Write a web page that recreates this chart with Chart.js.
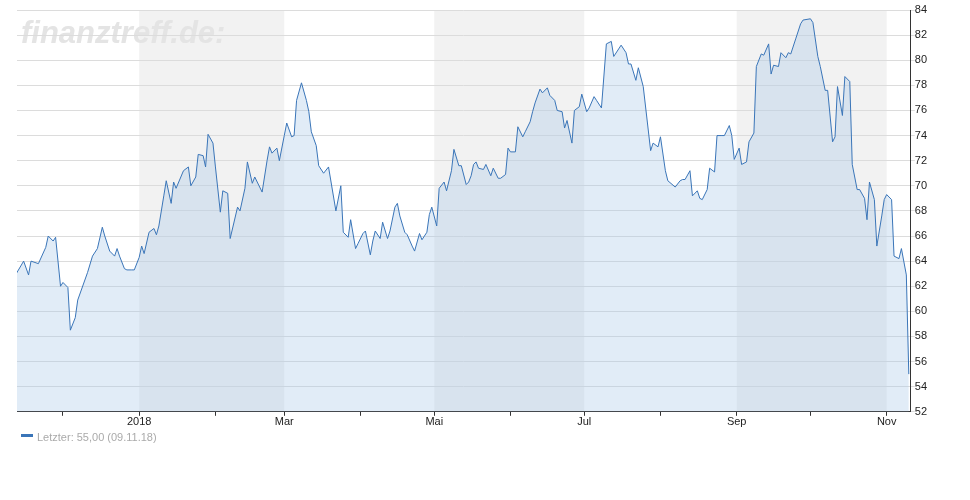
<!DOCTYPE html>
<html>
<head>
<meta charset="utf-8">
<script src="https://cdn.jsdelivr.net/npm/chart.js@4"></script>
<style>
  body { margin: 0; background: #fff; font-family: Arial, "Liberation Sans", sans-serif; }
  #wrap { position: relative; width: 970px; height: 434px; }
  #legend { position: absolute; left: 21px; top: 431px; font-size: 11px; color: #aaa; }
  #legend span { display: inline-block; width: 12px; height: 3px; background: #3a75b8; vertical-align: middle; margin-right: 4px; position: relative; top: -3px; }
</style>
</head>
<body>
<div id="wrap"><canvas id="chart"></canvas></div>
<div id="legend"><span></span>Letzter: 55,00 (09.11.18)</div>
<script>
// days since 01.01.2018
const days = [-50,-47,-45,-44,-41,-38,-37,-35,-34,-32,-31,-29,-28,-26,-25,-21,-19,-17,-15,-14,-12,-10,-9,-8,-6,-5,-3,-2,0,1,2,4,6,7,8,10,11,13,14,15,18,20,21,23,24,26,27,28,30,31,33,34,36,37,40,
  41,43,44,46,47,50,52,53,54,56,57,59,60,62,63,64,66,68,69,70,72,73,75,77,80,82,83,85,86,88,89,91,92,94,95,96,98,99,101,102,104,105,106,108,109,111,112,114,115,117,118,119,121,122,124,125,127,128,130,131,133,134,
  135,136,137,138,140,141,143,144,146,147,149,150,151,153,154,156,157,159,160,161,163,164,166,167,169,170,172,173,174,176,177,179,180,182,183,185,186,188,190,192,193,195,196,198,199,200,202,203,205,208,209,211,212,214,215,218,220,221,222,224,225,227,
  228,229,231,232,234,235,237,238,240,241,242,244,245,247,248,250,251,253,254,256,257,258,260,261,263,264,265,267,269,270,273,274,276,277,279,280,282,283,284,286,287,289,290,292,293,295,296,297,299,300,302,303,304,306,307,309,310,312,313];
const prices = [63.0,64.0,62.9,64.0,63.8,65.1,66.0,65.6,65.9,62.0,62.3,61.9,58.5,59.5,60.9,63.1,64.4,65.0,66.7,66.0,64.8,64.4,65.0,64.4,63.4,63.3,63.3,63.3,64.3,65.2,64.6,66.3,66.6,66.1,66.8,69.2,70.4,68.6,70.3,69.8,71.2,71.5,70.0,70.7,72.5,72.4,71.5,74.1,73.4,71.5,67.9,69.6,69.4,65.8,68.3,
  68.0,69.8,71.9,70.2,70.7,69.5,72.0,73.1,72.6,73.0,72.0,74.0,75.0,73.9,74.0,76.8,78.2,76.8,75.9,74.3,73.2,71.6,71.0,71.5,68.0,70.0,66.3,65.9,67.3,65.0,65.4,66.2,66.4,64.5,65.6,66.4,65.8,67.1,65.8,66.4,68.3,68.6,67.6,66.3,66.1,65.2,64.8,66.2,65.7,66.3,67.7,68.3,66.8,69.8,70.3,69.6,71.2,72.9,71.6,71.6,70.1,70.3,
  70.8,71.7,71.9,71.4,71.3,71.7,70.8,71.4,70.6,70.6,70.9,73.0,72.7,72.7,74.7,73.9,74.3,75.1,75.9,76.6,77.7,77.4,77.8,77.2,76.8,76.0,75.9,74.6,75.2,73.4,76.0,76.3,77.3,75.9,76.2,77.1,76.8,76.2,81.3,81.5,80.3,80.9,81.2,80.6,79.7,79.7,78.4,79.4,77.9,72.8,73.4,73.1,73.9,71.2,70.4,69.9,70.4,70.5,70.5,71.2,69.2,69.6,
  69.0,68.9,69.7,71.4,71.1,74.0,74.0,74.0,74.8,74.0,72.1,73.0,71.7,71.9,73.5,74.2,79.5,80.5,80.4,81.3,78.9,79.6,79.5,80.6,80.2,80.6,80.5,81.7,82.9,83.2,83.3,83.0,80.3,79.5,77.6,77.6,73.5,73.9,77.9,75.6,78.7,78.3,71.7,69.7,69.7,69.0,67.3,70.3,68.9,65.2,67.6,68.9,69.3,68.9,64.4,64.2,65.0,62.9,55.0];
const monthStarts = [-31,0,31,59,90,120,151,181,212,243,273,304];
const monthLabels = ["","2018","","Mar","","Mai","","Jul","","Sep","","Nov"];
const bands = [[0,59],[120,181],[243,304]];
const yTicks = [52,54,56,58,60,62,64,66,68,70,72,74,76,78,80,82,84];

const bgPlugin = {
  id: "bg",
  beforeDraw(chart) {
    const c = chart.ctx, a = chart.chartArea, x = chart.scales.x;
    c.save();
    c.fillStyle = "#f2f2f2";
    bands.forEach(b => {
      const x0 = x.getPixelForValue(b[0]), x1 = x.getPixelForValue(b[1]);
      c.fillRect(x0, a.top, x1 - x0, a.bottom - a.top);
    });
    c.font = "italic bold 31px Arial, 'Liberation Sans'";
    c.fillStyle = "#e4e4e4";
    c.fillText("finanztreff.de:", 21, 43);
    c.restore();
  }
};

const ctx = document.getElementById("chart").getContext("2d");
new Chart(ctx, {
  type: "line",
  data: {
    datasets: [{
      data: days.map((d, i) => ({ x: d, y: prices[i] })),
      borderColor: "#3a75b8",
      borderWidth: 1,
      backgroundColor: "rgba(170,200,232,0.35)",
      fill: "start",
      pointRadius: 0,
      tension: 0
    }]
  },
  options: {
    responsive: true,
    maintainAspectRatio: false,
    animation: false,
    layout: { padding: { left: 17, right: 43, top: 10, bottom: 5 } },
    plugins: { legend: { display: false }, tooltip: { enabled: false } },
    scales: {
      x: {
        type: "linear",
        min: -49.7,
        max: 313.8,
        afterBuildTicks: s => { s.ticks = monthStarts.map(v => ({ value: v })); },
        ticks: {
          autoSkip: false,
          maxRotation: 0,
          padding: 0,
          color: "#222",
          font: { size: 11, family: "Arial, 'Liberation Sans'" },
          callback: (v, i) => monthLabels[i]
        },
        grid: { drawOnChartArea: false, tickLength: 4, color: "#333" },
        border: { color: "#333" }
      },
      y: {
        position: "right",
        min: 52,
        max: 84,
        afterBuildTicks: s => { s.ticks = yTicks.map(v => ({ value: v })); },
        ticks: { color: "#222", padding: 0, font: { size: 11, family: "Arial, 'Liberation Sans'" } },
        grid: { color: "#dcdcdc", tickLength: 4 },
        border: { color: "#333" }
      }
    }
  },
  plugins: [bgPlugin]
});
</script>
</body>
</html>
